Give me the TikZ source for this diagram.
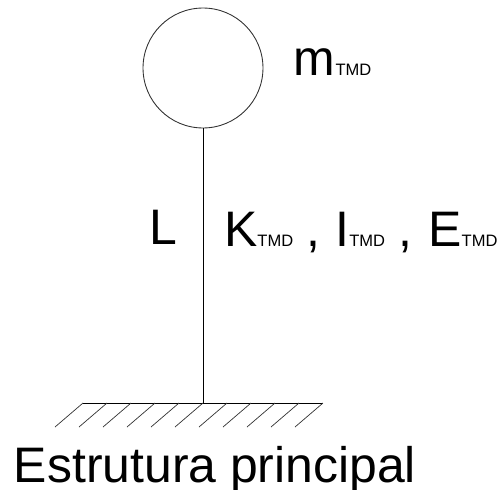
\documentclass[tikz,border=0pt]{standalone}
\usepackage{fontspec}
\setmainfont{Liberation Sans}
\usetikzlibrary{calc}
\newcommand{\tmd}{{\fontsize{9.4}{10}\selectfont TMD}}

\begin{document}
\begin{tikzpicture}[x=0.02cm,y=-0.02cm,line width=0.5pt]
  \tikzset{bigtext/.style={anchor=base west,inner sep=0pt,font=\fontsize{28.4}{34}\selectfont},
    massbox/.style={draw,black!80,circle,inner sep=0pt,minimum size=2.4cm}}
  \useasboundingbox (0,0) rectangle (501,490);

  \node[massbox] (mass) at (203,68) {};
  \coordinate (base) at (203,403);
  \coordinate (groundl) at (83,403);
  \coordinate (groundr) at (323,403);

  \draw (mass) -- (base);
  \draw (groundl) -- (groundr);
  % hatching under the ground line
  \foreach \i in {0,...,10}
    \draw[black!80,line width=0.4pt] ($(groundl)+(24*\i,0)$) -- ++(-28,24);

  \node[bigtext] (mlabel) at (293.5,75) {m\tmd};
  \node[bigtext] (llabel) at (149,244) {L};
  \node[bigtext] (klabel) at (223.7,246.5) {K\tmd};
  \node[bigtext] (comma1) at (306.5,246.5) {,};
  \node[bigtext] (ilabel) at (335,246.5) {I\tmd};
  \node[bigtext] (comma2) at (398.5,246.5) {,};
  \node[bigtext] (elabel) at (428,246.5) {E\tmd};
  \node[bigtext] (title) at (13.5,482) {Estrutura principal};
\end{tikzpicture}
\end{document}
